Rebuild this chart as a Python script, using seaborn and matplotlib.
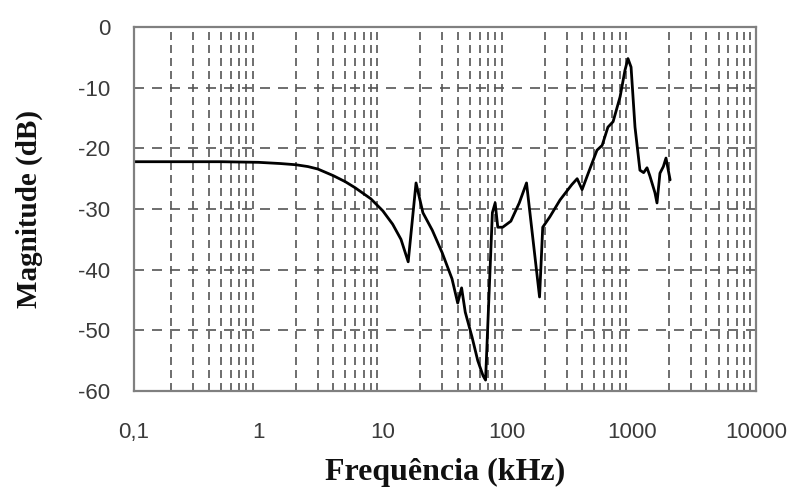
# Frequency response plot (magnitude in dB vs frequency, log axis)
import numpy as np
import pandas as pd
import matplotlib
matplotlib.use("Agg")
import matplotlib.pyplot as plt
import seaborn as sns

# values
freq_khz = [0.1, 0.5, 1, 1.5, 2, 2.5, 3, 4, 5, 6, 8, 10, 12, 14, 16, 18.5, 21, 25,
            30, 36, 40, 43, 46, 52, 58, 64, 67, 76, 80, 84, 92, 107, 125, 143, 182,
            193, 220, 266, 330, 365, 400, 450, 527, 580, 645, 710, 808, 885, 935,
            990, 1065, 1167, 1250, 1330, 1400, 1540, 1600, 1690, 1800, 1890, 2040]
mag_db = [-22.2, -22.2, -22.3, -22.5, -22.7, -23.0, -23.4, -24.5, -25.5, -26.5,
          -28.3, -30.3, -32.5, -35.0, -38.7, -25.7, -30.6, -33.5, -37.2, -41.5,
          -45.5, -43.0, -47.0, -51.0, -55.0, -57.5, -58.2, -30.6, -29.0, -33.0,
          -33.0, -32.0, -29.0, -25.7, -44.5, -33.0, -31.3, -28.5, -26.0, -25.0,
          -26.8, -24.0, -20.3, -19.5, -16.5, -15.6, -11.5, -7.1, -5.2, -6.6,
          -16.5, -23.6, -24.0, -23.2, -24.5, -27.3, -29.0, -24.1, -23.0, -21.6,
          -25.2]

x_ticks = [0.1, 1, 10, 100, 1000, 10000]
x_tick_labels = ["0,1", "1", "10", "100", "1000", "10000"]
y_ticks = [-60, -50, -40, -30, -20, -10, 0]

df = pd.DataFrame({"Frequência (kHz)": freq_khz, "Magnitude (dB)": mag_db})

sns.set_style("white")
plt.rcParams["font.family"] = ["Liberation Sans", "DejaVu Sans"]

fig = plt.figure(figsize=(8, 4.92), dpi=100)
ax = fig.add_axes([0.1675, 0.2053, 0.7775, 0.7397])

sns.lineplot(data=df, x="Frequência (kHz)", y="Magnitude (dB)", color="black",
             linewidth=2.0, ax=ax, sort=False)

ax.set_xscale("log")
ax.set_xlim(0.1, 10000)
ax.set_ylim(-60, 0)

ax.set_xticks(x_ticks)
ax.set_xticklabels(x_tick_labels)
minor = [m * d for d in [0.1, 1, 10, 100, 1000] for m in range(2, 10)]
ax.set_xticks(minor, minor=True)
ax.set_yticks(y_ticks)
ax.set_yticklabels([str(v) for v in y_ticks])

# dashed grid: minor verticals only, major horizontals
ax.grid(False)
ax.grid(which="minor", axis="x", color="#555555", linestyle=(0, (4.8, 3)), linewidth=1.2)
ax.grid(which="major", axis="y", color="#555555", linestyle=(0, (6, 4.8)), linewidth=1.2)

ax.tick_params(axis="both", which="major", direction="inout", length=10, width=1.5,
               color="#7a7a7a", labelsize=16, labelcolor="#3a3a3a")
ax.tick_params(axis="x", which="major", pad=17)
ax.tick_params(axis="y", which="major", pad=12)
ax.tick_params(axis="x", which="minor", length=0)

for s in ax.spines.values():
    s.set_color("#808080")
    s.set_linewidth(1.6)

ax.set_xlabel("Frequência (kHz)", fontfamily="Liberation Serif", fontweight="bold",
              fontsize=23, color="#111111", labelpad=11)
ax.set_ylabel("Magnitude (dB)", fontfamily="Liberation Serif", fontweight="bold",
              fontsize=21, color="#111111", labelpad=25)

fig.savefig("out.png", dpi=100)
